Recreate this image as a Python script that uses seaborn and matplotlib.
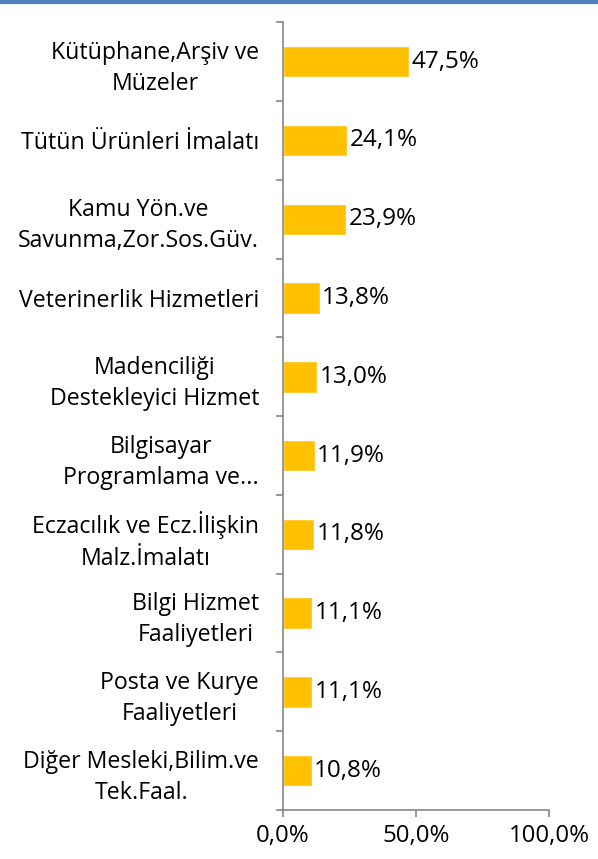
import matplotlib
matplotlib.use("Agg")
import matplotlib.pyplot as plt
import seaborn as sns
import numpy as np
import pandas as pd
from matplotlib.lines import Line2D

categories = [
    "Kütüphane,Arşiv ve\nMüzeler",
    "Tütün Ürünleri İmalatı",
    "Kamu Yön.ve\nSavunma,Zor.Sos.Güv.",
    "Veterinerlik Hizmetleri",
    "Madenciliği\nDestekleyici Hizmet",
    "Bilgisayar\nProgramlama ve...",
    "Eczacılık ve Ecz.İlişkin\nMalz.İmalatı",
    "Bilgi Hizmet\nFaaliyetleri",
    "Posta ve Kurye\nFaaliyetleri",
    "Diğer Mesleki,Bilim.ve\nTek.Faal.",
]
values = [47.5, 24.1, 23.9, 13.8, 13.0, 11.9, 11.8, 11.1, 11.1, 10.8]
x_ticks = [0, 50, 100]
x_tick_labels = ["0,0%", "50,0%", "100,0%"]

sns.set_style("white")
plt.rcParams["font.family"] = ["Open Sans", "DejaVu Sans"]
plt.rcParams["xtick.bottom"] = True
plt.rcParams["ytick.left"] = True

df = pd.DataFrame({"cat": categories, "val": values})

fig = plt.figure(figsize=(5.98, 8.59), dpi=100)
ax = fig.add_axes([0.473, 0.057, 0.445, 0.917])

sns.barplot(data=df, x="val", y="cat", orient="h", color="#FFC000",
            width=0.4, saturation=1, ax=ax)

ax.set_xlim(0, 100)
ax.set_ylim(len(categories) - 0.5, -0.5)
ax.set_xlabel("")
ax.set_ylabel("")

ax.set_xticks(x_ticks)
ax.set_xticklabels(x_tick_labels, fontsize=17.3, color="black")
ax.tick_params(axis="x", bottom=True, length=5, width=1.2,
               color="#868686", pad=5)

ax.set_yticks(np.arange(len(categories)))
ax.set_yticklabels(categories, fontsize=16.7, color="black")
ax.tick_params(axis="y", which="major", left=True, length=0, pad=17)
ax.set_yticks(np.arange(len(categories) + 1) - 0.5, minor=True)
ax.tick_params(axis="y", which="minor", left=True, length=5, width=1.2,
               color="#868686")
for lab in ax.get_yticklabels():
    lab.set_multialignment("center")
    lab.set_linespacing(1.4)

for s in ["top", "right"]:
    ax.spines[s].set_visible(False)
for s in ["left", "bottom"]:
    ax.spines[s].set_color("#868686")
    ax.spines[s].set_linewidth(1.2)

for i, v in enumerate(values):
    ax.text(v + 1.0, i, f"{v:.1f}%".replace(".", ","), va="center",
            ha="left", fontsize=17.5, color="black")

fig.add_artist(Line2D([0, 1], [0.998, 0.998], color="#4F81BD",
                      linewidth=3, transform=fig.transFigure))

fig.savefig("out.png", dpi=100)
plt.close(fig)
